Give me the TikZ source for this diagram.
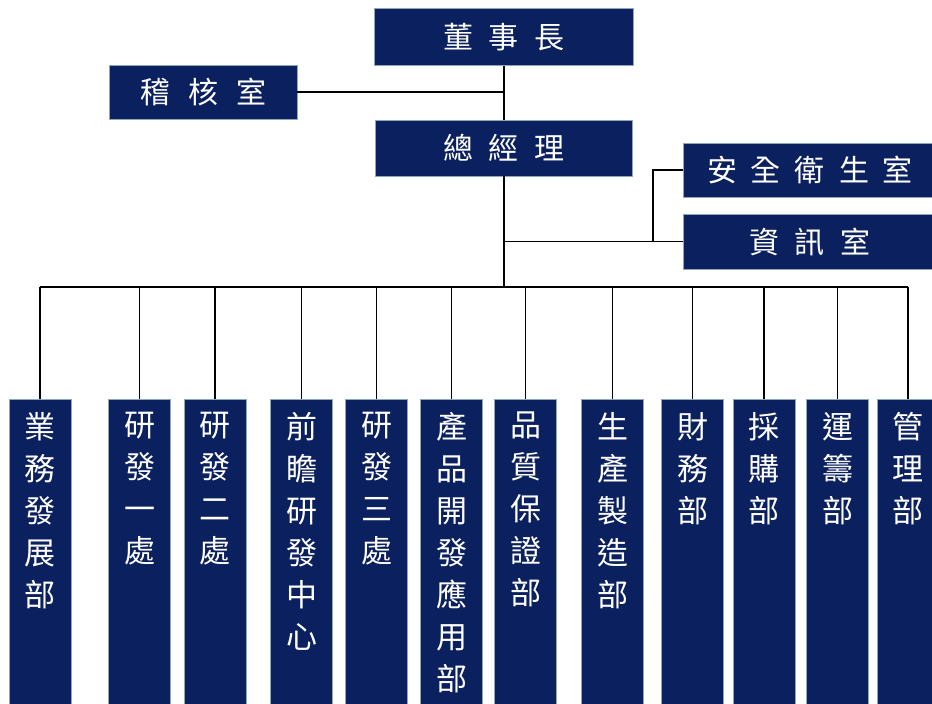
\documentclass[tikz,border=0pt]{standalone}
\usepackage{fontspec}
\newfontfamily\cjk{Noto Sans CJK TC}
\definecolor{navy}{HTML}{0B205E}
\definecolor{edgegray}{HTML}{8FA8B4}
\newcommand\chgap{\hspace{16pt}}
\begin{document}
\begin{tikzpicture}[x=1pt,y=-1pt,
  box/.style={draw=edgegray, line width=0.8pt, fill=navy, text=white, inner sep=0pt,
    font=\cjk\fontsize{30}{36}\selectfont},
  vbox/.style={draw=edgegray, line width=0.8pt, fill=navy, inner sep=0pt,
    minimum width=62pt, minimum height=320pt, anchor=north},
  vtext/.style={anchor=north, inner sep=0pt, text=white, align=center,
    font=\cjk\fontsize{31}{42}\selectfont},
  link/.style={line width=1.1pt, black},
  buslink/.style={line width=1.6pt, black},
  mainlink/.style={line width=2.4pt, black}]
\useasboundingbox (0,0) rectangle (932,704);

% top boxes
\node[box, minimum width=259pt, minimum height=57pt] (dsz) at (504,37) {董\chgap 事\chgap 長};
\node[box, minimum width=188pt, minimum height=54pt] (jhs) at (203,92) {稽\hspace{18pt}核\hspace{18pt}室};
\node[box, minimum width=257pt, minimum height=56pt] (zjl) at (504,148) {總\chgap 經\chgap 理};
\node[box, minimum width=254pt, minimum height=54pt] (aq) at (810,170) {安\hspace{14pt}全\hspace{14pt}衛\hspace{14pt}生\hspace{14pt}室};
\node[box, minimum width=254pt, minimum height=55pt] (zx) at (810,241.5) {資\chgap 訊\chgap 室};

% bottom boxes
\node[vbox] (b1) at (40,399) {};
\node[vbox] (b2) at (139.5,399) {};
\node[vbox] (b3) at (215,399) {};
\node[vbox] (b4) at (301.5,399) {};
\node[vbox] (b5) at (376.5,399) {};
\node[vbox] (b6) at (451.5,399) {};
\node[vbox] (b7) at (525.5,399) {};
\node[vbox] (b8) at (612.5,399) {};
\node[vbox] (b9) at (692.5,399) {};
\node[vbox] (b10) at (764,399) {};
\node[vbox] (b11) at (837.5,399) {};
\node[vbox] (b12) at (908,399) {};

\node[vtext] (t1) at ([yshift=-13pt]b1.north) {業\\務\\發\\展\\部};
\node[vtext] (t2) at ([yshift=-13pt]b2.north) {研\\發\\一\\處};
\node[vtext] (t3) at ([yshift=-13pt]b3.north) {研\\發\\二\\處};
\node[vtext] (t4) at ([yshift=-13pt]b4.north) {前\\瞻\\研\\發\\中\\心};
\node[vtext] (t5) at ([yshift=-13pt]b5.north) {研\\發\\三\\處};
\node[vtext] (t6) at ([yshift=-13pt]b6.north) {產\\品\\開\\發\\應\\用\\部};
\node[vtext] (t7) at ([yshift=-13pt]b7.north) {品\\質\\保\\證\\部};
\node[vtext] (t8) at ([yshift=-13pt]b8.north) {生\\產\\製\\造\\部};
\node[vtext] (t9) at ([yshift=-13pt]b9.north) {財\\務\\部};
\node[vtext] (t10) at ([yshift=-13pt]b10.north) {採\\購\\部};
\node[vtext] (t11) at ([yshift=-13pt]b11.north) {運\\籌\\部};
\node[vtext] (t12) at ([yshift=-13pt]b12.north) {管\\理\\部};

% connectors
\coordinate (bus) at (504,287);
\coordinate (sj) at (653,241.5);
\draw[link] (dsz.south) -- (zjl.north);
\draw[link] (jhs.east) -- (jhs.east -| dsz.south);
\draw[mainlink] (zjl.south) -- (bus);
\draw[link] (zjl.south |- zx.west) -- (zx.west);
\draw[link] (sj) |- (aq.west);
\draw[buslink] (b1.north |- bus) -- (b12.north |- bus);
\foreach \i in {1,...,12}{
  \draw[link] (b\i.north) -- (b\i.north |- bus);
}
\end{tikzpicture}
\end{document}
